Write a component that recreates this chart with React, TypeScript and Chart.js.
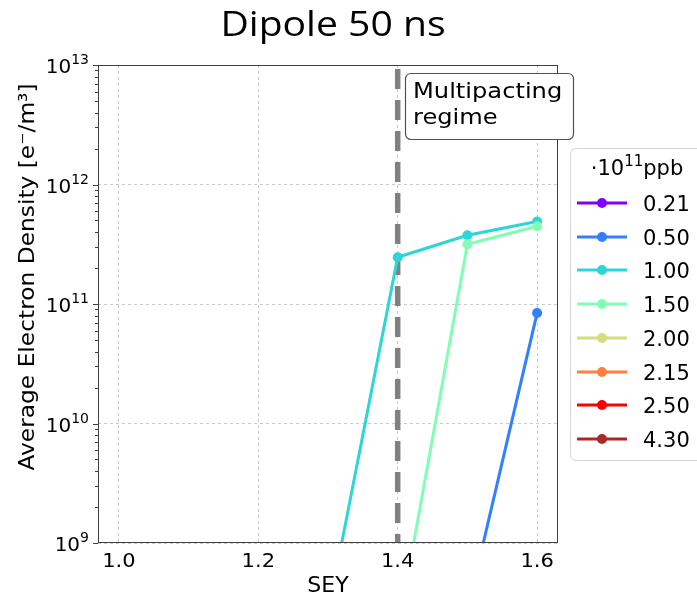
import React, { useEffect, useRef } from 'react';
import { Chart, registerables } from 'chart.js';

Chart.register(...registerables);

// ---- data ----
const intensityLabels = ['0.21', '0.50', '1.00', '1.50', '2.00', '2.15', '2.50', '4.30'];
const seriesColors = ['#8000ff', '#3080ff', '#2cd6d6', '#80ffb4', '#d4dd80', '#ff8040', '#ff0000', '#a52a2a'];

const sey021: number[] = [];
const ne021: number[] = [];
const sey050 = [1.5, 1.6];
const ne050 = [2.7e8, 8.4e10];
const sey100 = [1.3, 1.4, 1.5, 1.6];
const ne100 = [2.6e8, 2.46e11, 3.76e11, 4.9e11];
const sey150 = [1.4, 1.5, 1.6];
const ne150 = [1.8e8, 3.16e11, 4.47e11];
const sey200: number[] = [];
const ne200: number[] = [];
const sey215: number[] = [];
const ne215: number[] = [];
const sey250: number[] = [];
const ne250: number[] = [];
const sey430: number[] = [];
const ne430: number[] = [];

const seyTicks = [1.0, 1.2, 1.4, 1.6];
const densityTicks = [1e9, 1e10, 1e11, 1e12, 1e13];
const multipactingThreshold = 1.4;

const allSey = [sey021, sey050, sey100, sey150, sey200, sey215, sey250, sey430];
const allNe = [ne021, ne050, ne100, ne150, ne200, ne215, ne250, ne430];

const DV = '"DejaVu Sans", sans-serif';

function drawText(ctx: CanvasRenderingContext2D, text: string, x: number, y: number, font: string, align: 'left' | 'center' | 'right', sx = 1, color = '#000') {
  ctx.save();
  ctx.font = font;
  ctx.fillStyle = color;
  ctx.textBaseline = 'alphabetic';
  ctx.textAlign = 'left';
  const w = ctx.measureText(text).width * sx;
  let left = x;
  if (align === 'center') left = x - w / 2;
  if (align === 'right') left = x - w;
  ctx.translate(left, y);
  ctx.scale(sx, 1);
  ctx.fillText(text, 0, 0);
  ctx.restore();
  return w;
}

function measure(ctx: CanvasRenderingContext2D, text: string, font: string) {
  ctx.save();
  ctx.font = font;
  const w = ctx.measureText(text).width;
  ctx.restore();
  return w;
}

function roundRect(ctx: CanvasRenderingContext2D, x: number, y: number, w: number, h: number, r: number) {
  ctx.beginPath();
  ctx.moveTo(x + r, y);
  ctx.lineTo(x + w - r, y);
  ctx.quadraticCurveTo(x + w, y, x + w, y + r);
  ctx.lineTo(x + w, y + h - r);
  ctx.quadraticCurveTo(x + w, y + h, x + w - r, y + h);
  ctx.lineTo(x + r, y + h);
  ctx.quadraticCurveTo(x, y + h, x, y + h - r);
  ctx.lineTo(x, y + r);
  ctx.quadraticCurveTo(x, y, x + r, y);
  ctx.closePath();
}

const decorPlugin = {
  id: 'decor',
  beforeDatasetsDraw(chart: any) {
    const { ctx, chartArea, scales } = chart;
    const x = scales.x.getPixelForValue(multipactingThreshold);
    ctx.save();
    ctx.beginPath();
    ctx.rect(chartArea.left, chartArea.top, chartArea.right - chartArea.left, chartArea.bottom - chartArea.top);
    ctx.clip();
    ctx.strokeStyle = '#808080';
    ctx.lineWidth = 5.5;
    ctx.setLineDash([20, 11]);
    ctx.lineDashOffset = -4;
    ctx.beginPath();
    ctx.moveTo(x, chartArea.top);
    ctx.lineTo(x, chartArea.bottom);
    ctx.stroke();
    ctx.restore();
  },
  afterDraw(chart: any) {
    const { ctx, chartArea, scales } = chart;
    const { left, right, top, bottom } = chartArea;
    ctx.save();
    // spines
    ctx.strokeStyle = '#404040';
    ctx.lineWidth = 1;
    ctx.setLineDash([]);
    ctx.strokeRect(left + 0.5, top + 0.5, right - left - 1, bottom - top - 1);

    // y ticks (major + minor)
    const ys = scales.y;
    ctx.beginPath();
    for (let e = 9; e <= 13; e++) {
      const py = Math.round(ys.getPixelForValue(Math.pow(10, e))) + 0.5;
      ctx.moveTo(left - 5, py);
      ctx.lineTo(left, py);
      if (e < 13) {
        for (let m = 2; m <= 9; m++) {
          const pm = Math.round(ys.getPixelForValue(m * Math.pow(10, e))) + 0.5;
          ctx.moveTo(left - 3, pm);
          ctx.lineTo(left, pm);
        }
      }
    }
    ctx.stroke();

    // y tick labels 10^n
    const baseFont = `20px ${DV}`;
    const supFont = `14px ${DV}`;
    densityTicks.forEach((v) => {
      const e = Math.round(Math.log10(v));
      const py = ys.getPixelForValue(v);
      const expW = measure(ctx, String(e), supFont);
      const rightEdge = 89;
      drawText(ctx, String(e), rightEdge, py - 1, supFont, 'right');
      drawText(ctx, '10', rightEdge - expW, py + 8, baseFont, 'right');
    });

    // x tick labels
    const xs = scales.x;
    seyTicks.forEach((v) => {
      const px = xs.getPixelForValue(v);
      drawText(ctx, v.toFixed(1), px, 567, baseFont, 'center', 1.05);
    });

    // axis labels
    drawText(ctx, 'SEY', (left + right) / 2, 592, `21px ${DV}`, 'center', 1.05);
    ctx.save();
    ctx.translate(34, 277);
    ctx.rotate(-Math.PI / 2);
    drawText(ctx, 'Average Electron Density [e\u207B/m\u00B3]', 0, 0, `22px ${DV}`, 'center', 1.06);
    ctx.restore();

    // title
    drawText(ctx, 'Dipole 50 ns', 333, 36, `34px "Open Sans", sans-serif`, 'center', 1.15);

    // annotation box
    ctx.save();
    roundRect(ctx, 405.5, 73.5, 168, 66, 6);
    ctx.fillStyle = '#ffffff';
    ctx.fill();
    ctx.strokeStyle = '#505050';
    ctx.lineWidth = 1.2;
    ctx.stroke();
    ctx.restore();
    drawText(ctx, 'Multipacting', 413, 98, `21px ${DV}`, 'left', 1.15);
    drawText(ctx, 'regime', 413, 124, `21px ${DV}`, 'left', 1.15);

    // legend
    ctx.save();
    roundRect(ctx, 570.5, 148.5, 140, 312, 6);
    ctx.fillStyle = 'rgba(255,255,255,0.9)';
    ctx.fill();
    ctx.strokeStyle = '#d6d6d6';
    ctx.lineWidth = 1;
    ctx.stroke();
    ctx.restore();

    // legend title ·10^11ppb
    const lf = `21px ${DV}`;
    const lsf = `15px ${DV}`;
    const p1 = '\u00B710';
    const w1 = measure(ctx, p1, lf);
    const w2 = measure(ctx, '11', lsf);
    const w3 = measure(ctx, 'ppb', lf);
    let tx = 637 - (w1 + w2 + w3) / 2;
    drawText(ctx, p1, tx, 175, lf, 'left');
    tx += w1;
    drawText(ctx, '11', tx, 166, lsf, 'left');
    tx += w2;
    drawText(ctx, 'ppb', tx, 175, lf, 'left');

    const rowY = [203, 237, 270, 304, 338, 372, 405, 439];
    intensityLabels.forEach((lab, i) => {
      const y = rowY[i];
      ctx.save();
      ctx.strokeStyle = seriesColors[i];
      ctx.lineWidth = 3;
      ctx.beginPath();
      ctx.moveTo(577, y);
      ctx.lineTo(627, y);
      ctx.stroke();
      ctx.fillStyle = seriesColors[i];
      ctx.beginPath();
      ctx.arc(602, y, 5, 0, Math.PI * 2);
      ctx.fill();
      ctx.restore();
      drawText(ctx, lab, 643, y + 8, lf, 'left');
    });

    ctx.restore();
  },
};

export default function App() {
  const ref = useRef<HTMLCanvasElement | null>(null);
  useEffect(() => {
    if (!ref.current) return;
    const datasets = intensityLabels.map((lab, i) => ({
      label: lab,
      data: allSey[i].map((s, j) => ({ x: s, y: allNe[i][j] })),
      borderColor: seriesColors[i],
      backgroundColor: seriesColors[i],
      pointBackgroundColor: seriesColors[i],
      pointBorderWidth: 0,
      pointRadius: 5,
      borderWidth: 3,
      tension: 0,
      fill: false,
      clip: 0,
      order: -i,
    }));
    const chart = new Chart(ref.current, {
      type: 'line',
      data: { datasets },
      options: {
        animation: false,
        responsive: false,
        maintainAspectRatio: false,
        devicePixelRatio: 1,
        layout: { padding: { left: 98, right: 697 - 558, top: 65, bottom: 596 - 543 } },
        plugins: {
          legend: { display: false },
          title: { display: false },
          tooltip: { enabled: false },
        },
        scales: {
          x: {
            type: 'linear',
            min: 0.97,
            max: 1.63,
            afterBuildTicks: (s: any) => {
              s.ticks = seyTicks.map((v) => ({ value: v }));
            },
            afterFit: (s: any) => {
              s.height = 0;
            },
            ticks: { display: false },
            grid: { color: '#c8c8c8', lineWidth: 1, drawTicks: false, tickLength: 0 },
            border: { display: false, dash: [3, 3] },
          },
          y: {
            type: 'logarithmic',
            min: 1e9,
            max: 1e13,
            afterBuildTicks: (s: any) => {
              s.ticks = densityTicks.map((v) => ({ value: v }));
            },
            afterFit: (s: any) => {
              s.width = 0;
            },
            ticks: { display: false },
            grid: { color: '#c8c8c8', lineWidth: 1, drawTicks: false, tickLength: 0 },
            border: { display: false, dash: [3, 3] },
          },
        },
      },
      plugins: [decorPlugin],
    } as any);
    return () => chart.destroy();
  }, []);
  return (
    <div style={{ position: 'absolute', left: 0, top: 0, width: 697, height: 596, background: '#fff' }}>
      <canvas ref={ref} width={697} height={596} style={{ width: 697, height: 596, display: 'block' }} />
    </div>
  );
}
